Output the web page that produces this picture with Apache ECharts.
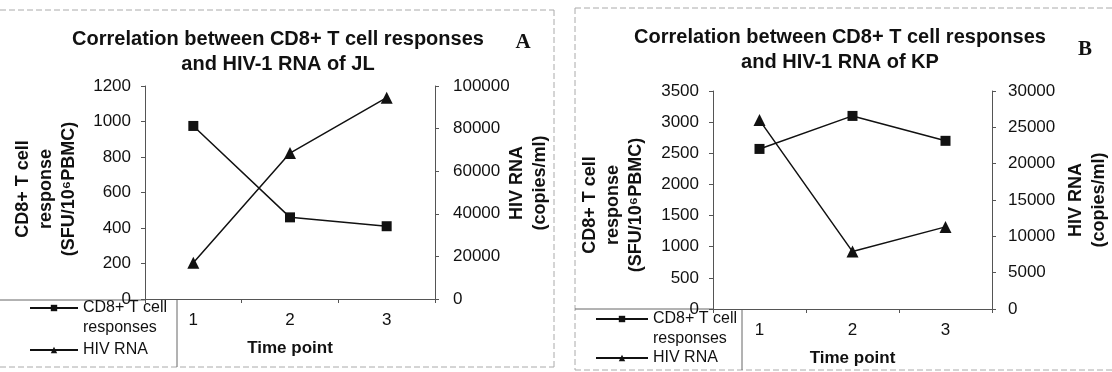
<!DOCTYPE html>
<html>
<head>
<meta charset="utf-8">
<script src="https://cdn.jsdelivr.net/npm/echarts@6/dist/echarts.min.js"></script>
<style>
html,body{margin:0;padding:0;background:#fff;}
#c{width:1112px;height:372px;}
</style>
</head>
<body>
<div id="c"></div>
<script>
// ---- data ----
var timePoints = ['1', '2', '3'];
var cd8A = [975, 460, 410];
var hivA = [17000, 68500, 94500];
var cd8B = [2570, 3100, 2700];
var hivB = [26000, 7900, 11300];
var titleA = 'Correlation between CD8+ T cell responses\nand HIV-1 RNA of JL';
var titleB = 'Correlation between CD8+ T cell responses\nand HIV-1 RNA of KP';
var nameCD8 = 'CD8+ T cell\nresponses';
var nameHIV = 'HIV RNA';
var leftAxisName = 'CD8+ T cell\nresponse\n(SFU/10\u2076PBMC)';
var rightAxisName = 'HIV RNA\n(copies/ml)';

var FONT = '"Liberation Sans", Arial, "DejaVu Sans", sans-serif';
var INK = '#111';
var AX = '#555';

function xAxisCfg(gi) {
  return {
    type: 'category', gridIndex: gi, data: timePoints, boundaryGap: true,
    name: 'Time point', nameLocation: 'middle', nameGap: 41,
    nameTextStyle: {fontFamily: FONT, fontSize: 17, fontWeight: 'bold', color: INK},
    axisLine: {lineStyle: {color: AX, width: 1}},
    axisTick: {show: true, interval: 0, alignWithLabel: false, length: 4, lineStyle: {color: AX}},
    axisLabel: {fontFamily: FONT, fontSize: 17, color: INK, margin: 13}
  };
}
function yAxisCfg(gi, pos, max, interval, margin) {
  return {
    type: 'value', gridIndex: gi, position: pos, min: 0, max: max, interval: interval,
    splitLine: {show: false},
    axisLine: {show: true, lineStyle: {color: AX, width: 1}},
    axisTick: {show: true, length: 4, lineStyle: {color: AX}},
    axisLabel: {fontFamily: FONT, fontSize: 17, color: INK, margin: margin,
      formatter: function (v) { return String(v); }}
  };
}
function lineSeries(name, xi, yi, data, symbol, size) {
  return {
    type: 'line', name: name, xAxisIndex: xi, yAxisIndex: yi, data: data,
    symbol: symbol, symbolSize: size, showSymbol: true,
    lineStyle: {color: INK, width: 1.5}, itemStyle: {color: INK},
    emphasis: {disabled: true}, animation: false
  };
}
function legendCfg(left, top, name, itemWidth, leadBlank) {
  return {
    left: left, top: top, padding: 0, orient: 'vertical', selectedMode: false,
    itemWidth: itemWidth, itemHeight: 8, itemGap: 0,
    textStyle: {fontFamily: FONT, fontSize: 16, color: INK, lineHeight: 20},
    formatter: leadBlank ? function (n) { return ' \n' + n; } : null,
    data: [{name: name}]
  };
}
function frameLine(x1, y1, x2, y2, dash) {
  return {type: 'line', shape: {x1: x1, y1: y1, x2: x2, y2: y2}, silent: true,
    style: {stroke: dash ? '#aaa' : '#666', lineWidth: 1, lineDash: dash ? [6, 3] : null}};
}
function rotText(x, y, txt) {
  return {type: 'text', x: x, y: y, rotation: Math.PI / 2, silent: true,
    style: {text: txt, fontFamily: FONT, fontSize: 18, fontWeight: 'bold', fill: INK,
      align: 'center', verticalAlign: 'middle', lineHeight: 23}};
}

var chart = echarts.init(document.getElementById('c'), null, {renderer: 'canvas'});
chart.setOption({
  animation: false,
  backgroundColor: '#fff',
  title: [
    {text: titleA, left: 278, top: 27, padding: 0, textAlign: 'center',
      textStyle: {fontFamily: FONT, fontSize: 20, fontWeight: 'bold', color: INK, lineHeight: 25}},
    {text: titleB, left: 840, top: 25, padding: 0, textAlign: 'center',
      textStyle: {fontFamily: FONT, fontSize: 20, fontWeight: 'bold', color: INK, lineHeight: 25}}
  ],
  grid: [
    {left: 145, top: 86, width: 290, height: 213},
    {left: 713, top: 91, width: 279, height: 218}
  ],
  xAxis: [xAxisCfg(0), xAxisCfg(1)],
  yAxis: [
    yAxisCfg(0, 'left', 1200, 200, 14),
    yAxisCfg(0, 'right', 100000, 20000, 18),
    yAxisCfg(1, 'left', 3500, 500, 14),
    yAxisCfg(1, 'right', 30000, 5000, 16)
  ],
  legend: [
    legendCfg(29, 278, nameCD8, 48, true),
    legendCfg(29, 340, nameHIV, 48, false),
    legendCfg(595, 289, nameCD8, 52, true),
    legendCfg(595, 348, nameHIV, 52, false)
  ],
  series: [
    lineSeries(nameCD8, 0, 0, cd8A, 'rect', 10),
    lineSeries(nameHIV, 0, 1, hivA, 'triangle', 12),
    lineSeries(nameCD8, 1, 2, cd8B, 'rect', 10),
    lineSeries(nameHIV, 1, 3, hivB, 'triangle', 12)
  ],
  graphic: [
    frameLine(0, 10, 554, 10, true),
    frameLine(554, 10, 554, 367, true),
    frameLine(0, 367, 554, 367, true),
    frameLine(575, 8, 1112, 8, true),
    frameLine(575, 8, 575, 370, true),
    frameLine(575, 370, 1112, 370, true),
    frameLine(0, 300, 145, 300, false),
    frameLine(177, 300, 177, 367, false),
    frameLine(575, 309, 713, 309, false),
    frameLine(742, 309, 742, 370, false),
    rotText(46, 189, leftAxisName),
    rotText(529, 183, rightAxisName),
    rotText(613, 205, leftAxisName),
    rotText(1088, 200, rightAxisName),
    {type: 'text', x: 523, y: 43, silent: true,
      style: {text: 'A', fontFamily: '"Liberation Serif", "Times New Roman", serif', fontSize: 21,
        fontWeight: 'bold', fill: INK, align: 'center', verticalAlign: 'middle'}},
    {type: 'text', x: 1085, y: 50, silent: true,
      style: {text: 'B', fontFamily: '"Liberation Serif", "Times New Roman", serif', fontSize: 21,
        fontWeight: 'bold', fill: INK, align: 'center', verticalAlign: 'middle'}}
  ]
});
</script>
</body>
</html>
